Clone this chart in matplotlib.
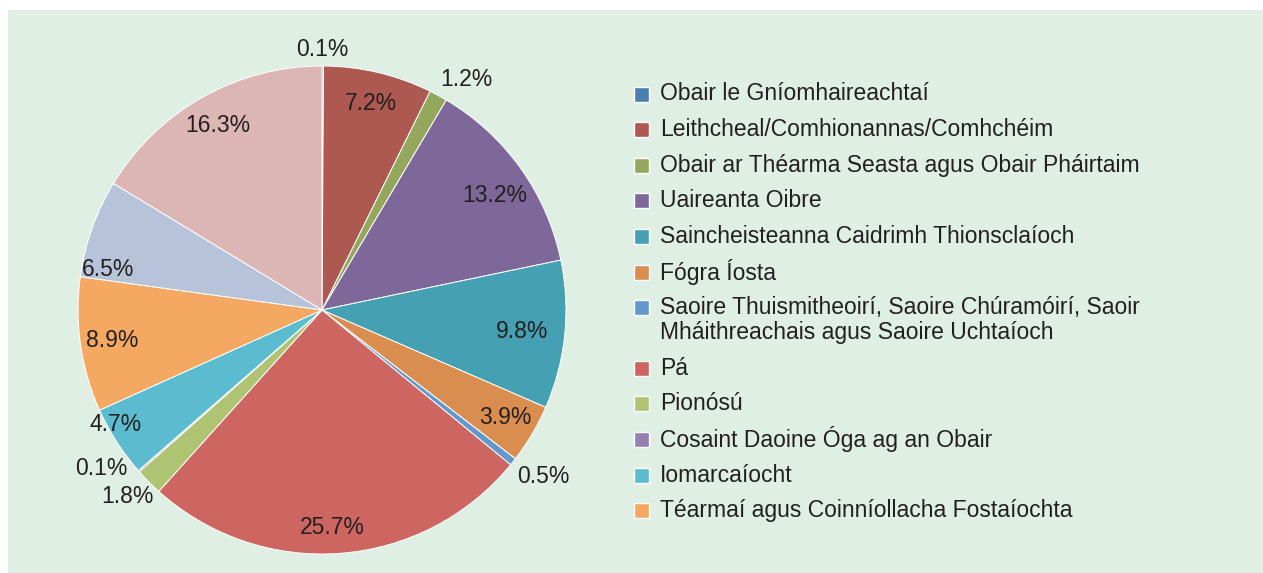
# pie chart of complaint categories with a clipped legend on the right
import numpy as np
import matplotlib.pyplot as plt
from matplotlib.patches import Rectangle
from matplotlib.transforms import Bbox, TransformedBbox

plt.rcParams['font.family'] = ['Liberation Sans', 'DejaVu Sans']

## data (clockwise from the top)
categories = [
    "Obair le Gníomhaireachtaí",
    "Leithcheal/Comhionannas/Comhchéim",
    "Obair ar Théarma Seasta agus Obair Pháirtaimseartha",
    "Uaireanta Oibre",
    "Saincheisteanna Caidrimh Thionsclaíoch",
    "Fógra Íosta",
    "Saoire Thuismitheoirí, Saoire Chúramóirí, Saoire\nMháithreachais agus Saoire Uchtaíoch",
    "Pá",
    "Pionósú",
    "Cosaint Daoine Óga ag an Obair",
    "Iomarcaíocht",
    "Téarmaí agus Coinníollacha Fostaíochta",
    "Eile 1",
    "Eile 2",
]
percent = [0.1, 7.2, 1.2, 13.2, 9.8, 3.9, 0.5, 25.7, 1.8, 0.1, 4.7, 8.9, 6.5, 16.3]
colors = ['#4A7EB0', '#AD5850', '#93A85C', '#7E6899', '#45A0B3', '#D98D4E',
          '#6298CC', '#CD6661', '#AEC472', '#9580B4', '#5BBCD0', '#F4A862',
          '#B6C3D8', '#DBB6B5']
n_legend = 12  # the rest of the legend falls outside the panel

W, H = 1263, 573
txt_col = '#231F20'
fs = 16.5

fig = plt.figure(figsize=(W / 100, H / 100), dpi=100, facecolor='white')

# background panel, pixel coordinates (y down)
bg = fig.add_axes([0, 0, 1, 1])
bg.set_xlim(0, W)
bg.set_ylim(H, 0)
bg.axis('off')
bg.add_patch(Rectangle((8, 10), W - 8, H - 10, facecolor='#DFEFE4', edgecolor='none'))

## pie
cx, cy, r = 322, 310, 244
pax = fig.add_axes([(cx - r) / W, (H - cy - r) / H, 2 * r / W, 2 * r / H])
wedges, _ = pax.pie(percent, colors=colors, startangle=90, counterclock=False,
                    wedgeprops=dict(edgecolor='white', linewidth=0.7))
pax.set_xlim(-1, 1)
pax.set_ylim(-1, 1)
pax.axis('off')

# small shifts so labels sit where the original put them
nudge = {3: (0, -0.037), 4: (-0.045, 0), 7: (-0.025, -0.025), 8: (0.033, 0),
         9: (-0.03, 0.07), 10: (-0.115, 0), 12: (-0.057, -0.127)}
for i, (w, v) in enumerate(zip(wedges, percent)):
    ang = np.deg2rad((w.theta1 + w.theta2) / 2)
    ca, sa = np.cos(ang), np.sin(ang)
    if v >= 3:
        x, y = 0.87 * ca, 0.87 * sa
        ha, va = 'center', 'center'
    else:
        x, y = 1.02 * ca, 1.02 * sa
        ha = 'center' if abs(ca) < 0.15 else ('left' if ca > 0 else 'right')
        va = 'bottom' if sa > 0 else 'top'
    dx, dy = nudge.get(i, (0, 0))
    pax.text(x + dx, y + dy, f"{v}%", ha=ha, va=va, fontsize=fs, color=txt_col)

## legend (drawn by hand so it can be cut off at the right like the original)
clip = TransformedBbox(Bbox.from_extents(0, 0, 1140 / W, 1), fig.transFigure)
y = 94
for name, c in list(zip(categories, colors))[:n_legend]:
    bg.add_patch(Rectangle((634, y - 7.5), 15, 15, facecolor=c, edgecolor='white', lw=1))
    lines = name.split('\n')
    for k, line in enumerate(lines):
        t = bg.text(660, y + 25 * k, line, ha='left', va='center', fontsize=fs, color=txt_col)
        t.set_clip_box(clip)
        t.set_clip_on(True)
    y += 35.6 + 25 * (len(lines) - 1)

plt.savefig('out.png', dpi=100)
